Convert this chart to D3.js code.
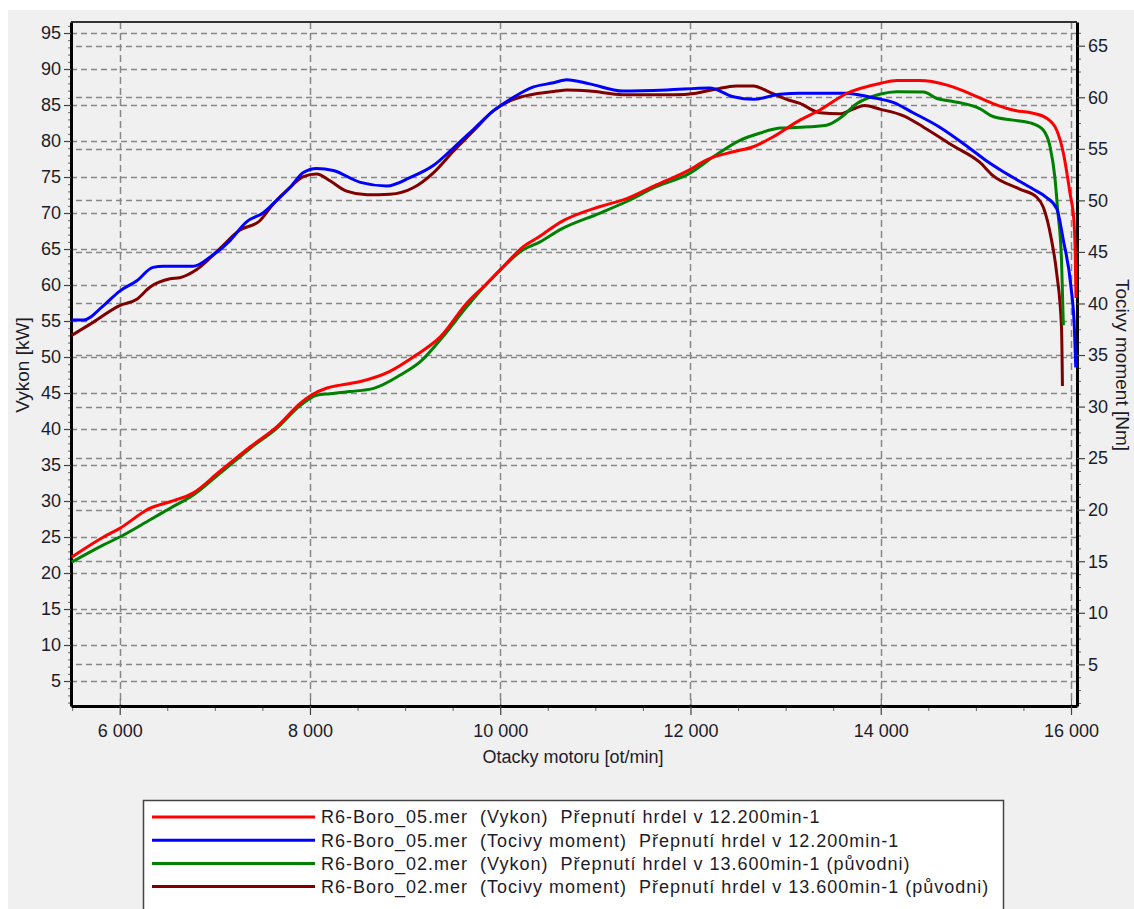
<!DOCTYPE html>
<html>
<head>
<meta charset="utf-8">
<script src="https://cdn.jsdelivr.net/npm/d3@7"></script>
<style>
  body { margin: 0; background: #fff; overflow: hidden; }
  text { font-family: "Liberation Sans", Arial, sans-serif; fill: #1c1c2a; }
  .legend-text { white-space: pre; }
</style>
</head>
<body>
<svg id="chart" width="1134" height="909"></svg>
<script>
// rpm / value pairs
const vykon05 = [[5495,22.2],[5830,25.0],[6000,26.2],[6320,29.0],[6530,29.9],[6770,31.1],[7050,34.1],[7370,37.5],[7650,40.3],[7900,43.6],[8000,44.6],[8180,45.7],[8320,46.1],[8530,46.6],[8840,48.0],[9120,50.3],[9370,52.8],[9650,57.5],[9860,60.2],[10000,62.1],[10240,65.3],[10420,66.8],[10630,68.7],[11050,70.9],[11330,72.0],[11640,73.9],[11990,76.0],[12170,77.4],[12450,78.5],[12660,79.2],[12870,80.6],[13150,82.9],[13360,84.3],[13640,86.6],[13990,88.0],[14170,88.4],[14410,88.4],[14690,87.8],[14900,86.8],[15180,85.2],[15390,84.3],[15600,83.85],[15740,83.2],[15850,81.5],[15920,78.3],[15990,72.7],[16030,69.0],[16045,64.0],[16052,58.2]];
const moment05 = [[5495,38.4],[5620,38.4],[5830,39.8],[6000,41.2],[6180,42.2],[6350,43.5],[6460,43.6],[6770,43.6],[6950,44.5],[7160,46.1],[7330,47.9],[7510,48.8],[7650,50.0],[7790,51.25],[7930,52.7],[8070,53.1],[8245,52.9],[8530,51.75],[8810,51.4],[9050,52.2],[9300,53.4],[9510,55.1],[9720,56.9],[9930,58.7],[10140,60.0],[10350,61.0],[10560,61.4],[10700,61.7],[10940,61.3],[11290,60.6],[11750,60.7],[12200,60.9],[12450,60.05],[12660,59.8],[12940,60.3],[13150,60.4],[13640,60.4],[13890,60.0],[14130,59.5],[14340,58.5],[14620,57.1],[14900,55.3],[15110,53.85],[15320,52.6],[15600,51.1],[15740,50.3],[15850,49.2],[15920,46.1],[16000,41.6],[16035,37.7],[16050,33.8]];
const vykon02 = [[5495,21.5],[5830,23.9],[6000,25.0],[6320,27.4],[6530,29.0],[6770,30.8],[7050,33.8],[7370,37.3],[7650,40.1],[7900,43.3],[8070,44.7],[8210,44.9],[8420,45.2],[8670,45.65],[8950,47.5],[9160,49.35],[9370,52.4],[9650,57.0],[9860,60.2],[10000,62.1],[10240,64.9],[10420,66.0],[10630,67.7],[11050,70.0],[11330,71.6],[11640,73.65],[11990,75.5],[12240,77.8],[12520,80.1],[12730,81.1],[12940,81.8],[13150,81.9],[13430,82.2],[13570,83.15],[13750,85.2],[13990,86.5],[14170,86.85],[14450,86.8],[14590,85.9],[14760,85.5],[15040,84.5],[15180,83.4],[15390,82.9],[15600,82.4],[15710,81.5],[15780,79.2],[15830,75.0],[15860,70.4],[15900,63.5],[15915,56.5],[15920,54.4]];
const moment02 = [[5495,36.9],[5690,38.0],[6000,39.8],[6180,40.4],[6320,41.6],[6530,42.4],[6630,42.5],[6810,43.3],[7050,45.3],[7260,47.1],[7470,48.0],[7610,49.6],[7790,51.25],[7930,52.3],[8070,52.55],[8210,51.9],[8385,50.9],[8600,50.55],[8840,50.6],[9090,51.25],[9300,52.7],[9510,54.8],[9720,56.75],[9930,58.7],[10140,59.8],[10350,60.3],[10590,60.6],[10700,60.7],[10940,60.6],[11290,60.25],[11820,60.25],[12060,60.4],[12270,60.8],[12480,61.1],[12660,61.1],[12830,60.5],[13010,59.8],[13150,59.4],[13360,58.5],[13570,58.4],[13710,58.85],[13830,59.2],[13990,58.85],[14240,58.2],[14450,57.1],[14760,55.3],[15040,53.7],[15180,52.4],[15460,51.1],[15640,50.3],[15710,49.3],[15790,46.4],[15850,42.9],[15900,37.7],[15910,32.0]];

const xTicks = [6000, 8000, 10000, 12000, 14000, 16000];
const leftTicks = d3.range(5, 100, 5);
const rightTicks = d3.range(5, 70, 5);

const legendLabels = [
  "R6-Boro_05.mer  (Vykon)  Přepnutí hrdel v 12.200min-1",
  "R6-Boro_05.mer  (Tocivy moment)  Přepnutí hrdel v 12.200min-1",
  "R6-Boro_02.mer  (Vykon)  Přepnutí hrdel v 13.600min-1 (původni)",
  "R6-Boro_02.mer  (Tocivy moment)  Přepnutí hrdel v 13.600min-1 (původni)"
];

const series = [
  { data: vykon05, axis: "left", color: "#ff0000" },
  { data: moment05, axis: "right", color: "#0000ff" },
  { data: vykon02, axis: "left", color: "#008000" },
  { data: moment02, axis: "right", color: "#800000" }
];

const plot = { left: 71, right: 1077, top: 22, bottom: 706 };

const svg = d3.select("#chart");

// grey window panel
svg.append("rect")
  .attr("x", 8).attr("y", 10)
  .attr("width", 1126).attr("height", 899)
  .attr("fill", "#f0f0f0");

const x = d3.scaleLinear().domain([5488, 16063]).range([plot.left, plot.right]);
const yL = d3.scaleLinear().domain([1.53, 96.53]).range([plot.bottom, plot.top]);
const yR = d3.scaleLinear().domain([0.96, 67.3]).range([plot.bottom, plot.top]);

const locale = d3.formatLocale({ decimal: ",", thousands: " ", grouping: [3], currency: ["", ""] });
const fmtX = locale.format(",");

// grid
let grid = svg.append("g")
  .attr("stroke", "#878787")
  .attr("stroke-width", 1.5)
  .attr("fill", "none");

grid.selectAll("line.gl")
  .data(leftTicks)
  .join("line")
  .attr("class", "gl")
  .attr("x1", plot.left).attr("x2", plot.right)
  .attr("y1", d => Math.round(yL(d)) + 0.5).attr("y2", d => Math.round(yL(d)) + 0.5)
  .attr("stroke-dasharray", "6,4");

grid.selectAll("line.gr")
  .data(rightTicks)
  .join("line")
  .attr("class", "gr")
  .attr("x1", plot.left).attr("x2", plot.right)
  .attr("y1", d => Math.round(yR(d)) + 0.5).attr("y2", d => Math.round(yR(d)) + 0.5)
  .attr("stroke-dasharray", "6,4")
  .attr("stroke-dashoffset", 5);

grid.selectAll("line.gx")
  .data(xTicks)
  .join("line")
  .attr("class", "gx")
  .attr("y1", plot.top).attr("y2", plot.bottom)
  .attr("x1", d => Math.round(x(d)) + 0.5).attr("x2", d => Math.round(x(d)) + 0.5)
  .attr("stroke-dasharray", "7,4");

// frame top
svg.append("line")
  .attr("x1", plot.left).attr("x2", plot.right)
  .attr("y1", plot.top).attr("y2", plot.top)
  .attr("stroke", "#333").attr("stroke-width", 2);

function styleAxis(g, size) {
  g.select(".domain").attr("stroke", "#000").attr("stroke-width", 3);
  g.selectAll(".tick line").attr("stroke", "#444").attr("stroke-width", 1.2);
  g.selectAll(".tick text")
    .attr("font-size", size)
    .attr("fill", "#1c1c2a");
}

// minor ticks first, majors over them
svg.append("g")
  .attr("transform", `translate(${plot.left},0)`)
  .call(d3.axisLeft(yL).tickValues(d3.range(2, 97, 1).filter(v => v % 5 !== 0)).tickSize(3).tickFormat("").tickSizeOuter(0))
  .call(g => { g.select(".domain").remove(); g.selectAll(".tick line").attr("stroke", "#666"); });

svg.append("g")
  .attr("transform", `translate(${plot.right},0)`)
  .call(d3.axisRight(yR).tickValues(d3.range(1.25, 67, 1.25).filter(v => v % 5 !== 0)).tickSize(4).tickFormat("").tickSizeOuter(0))
  .call(g => { g.select(".domain").remove(); g.selectAll(".tick line").attr("stroke", "#666"); });

svg.append("g")
  .attr("transform", `translate(0,${plot.bottom})`)
  .call(d3.axisBottom(x).tickValues(d3.range(5500, 16100, 500).filter(v => v % 2000 !== 0)).tickSize(5).tickFormat("").tickSizeOuter(0))
  .call(g => { g.select(".domain").remove(); g.selectAll(".tick line").attr("stroke", "#666"); });

// inner x ticks
svg.append("g")
  .attr("transform", `translate(0,${plot.bottom})`)
  .call(d3.axisBottom(x).tickValues(xTicks).tickSize(-7).tickFormat("").tickSizeOuter(0))
  .call(g => { g.select(".domain").remove(); g.selectAll(".tick line").attr("stroke", "#666"); });

svg.append("g")
  .attr("transform", `translate(${plot.left},0)`)
  .call(d3.axisLeft(yL).tickValues(leftTicks).tickSize(7).tickPadding(3).tickSizeOuter(0))
  .call(g => styleAxis(g, 18));

svg.append("g")
  .attr("transform", `translate(${plot.right},0)`)
  .call(d3.axisRight(yR).tickValues(rightTicks).tickSize(8).tickPadding(3).tickSizeOuter(0))
  .call(g => styleAxis(g, 18));

svg.append("g")
  .attr("transform", `translate(0,${plot.bottom})`)
  .call(d3.axisBottom(x).tickValues(xTicks).tickSize(9).tickPadding(9).tickFormat(fmtX).tickSizeOuter(0))
  .call(g => styleAxis(g, 18));

// curves go on top of the axis lines, like the dyno software draws them
svg.append("clipPath").attr("id", "clip")
  .append("rect")
  .attr("x", plot.left).attr("y", plot.top)
  .attr("width", plot.right - plot.left + 1).attr("height", plot.bottom - plot.top);

let lines = svg.append("g").attr("clip-path", "url(#clip)");
[series[3], series[2], series[1], series[0]].forEach(s => {
  let yScale = s.axis === "left" ? yL : yR;
  lines.append("path")
    .datum(s.data)
    .attr("fill", "none")
    .attr("stroke", s.color)
    .attr("stroke-width", 3)
    .attr("stroke-linejoin", "round")
    .attr("d", d3.line()
      .x(d => x(d[0]))
      .y(d => yScale(d[1]))
      .curve(d3.curveMonotoneX));
});

// axis titles
svg.append("text")
  .attr("transform", "translate(22,365) rotate(-90)")
  .attr("text-anchor", "middle")
  .attr("dy", "0.35em")
  .attr("font-size", 19)
  .text("Vykon [kW]");

svg.append("text")
  .attr("transform", "translate(1123,365) rotate(90)")
  .attr("text-anchor", "middle")
  .attr("dy", "0.35em")
  .attr("font-size", 19)
  .text("Tocivy moment [Nm]");

svg.append("text")
  .attr("x", 573).attr("y", 763)
  .attr("text-anchor", "middle")
  .attr("font-size", 18)
  .text("Otacky motoru [ot/min]");

// legend
let legend = svg.append("g");
legend.append("rect")
  .attr("x", 143.5).attr("y", 800.5)
  .attr("width", 860).attr("height", 130)
  .attr("fill", "#fff")
  .attr("stroke", "#444").attr("stroke-width", 1.5);

let rows = legend.selectAll("g.row")
  .data(series)
  .join("g")
  .attr("class", "row")
  .attr("transform", (d, i) => `translate(0,${817 + i * 23.2})`);

rows.append("line")
  .attr("x1", 152).attr("x2", 315)
  .attr("stroke", d => d.color)
  .attr("stroke-width", 3);

rows.append("text")
  .attr("class", "legend-text")
  .attr("x", 321)
  .attr("dy", "0.35em")
  .attr("font-size", 18)
  .attr("letter-spacing", 1.0)
  .text((d, i) => legendLabels[i]);
</script>
</body>
</html>
